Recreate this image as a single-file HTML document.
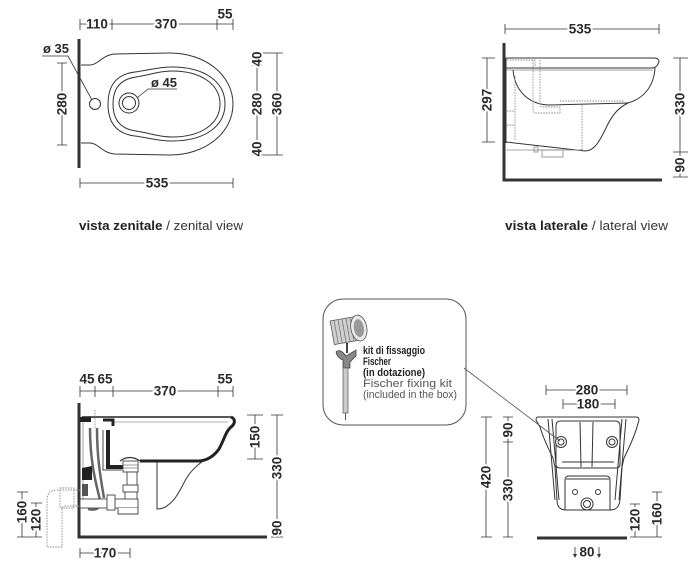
<!DOCTYPE html>
<html><head><meta charset="utf-8">
<style>
html,body{margin:0;padding:0;background:#fff;}
svg{display:block;}
.d{stroke:#333;stroke-width:0.8;fill:none}
.n{font-family:"Liberation Sans",sans-serif;font-weight:bold;font-size:13.5px;fill:#2a2a2a;stroke:#fff;stroke-width:4px;paint-order:stroke;stroke-linejoin:round;text-anchor:middle;dominant-baseline:central}
.m{font-family:"Liberation Sans",sans-serif;font-weight:bold;font-size:13.5px;fill:#2a2a2a;text-anchor:middle;dominant-baseline:central}
.o{stroke:#333;stroke-width:1;fill:none}
.g{stroke:#888;stroke-width:0.8;fill:none}
.dt{stroke:#888;stroke-width:0.9;fill:none;stroke-dasharray:1.5 1.2}
.w{stroke:#222;stroke-width:3;fill:none}
</style></head><body>
<svg width="698" height="562" viewBox="0 0 698 562" xmlns="http://www.w3.org/2000/svg">

<!-- ================= TOP-LEFT: zenital view ================= -->
<path class="d" d="M80,24H233 M80,19V30 M112,19V30 M217,19V30 M233,19V30"/>
<text class="n" x="97" y="24">110</text>
<text class="n" x="166" y="24">370</text>
<text class="m" x="225" y="14">55</text>

<path d="M79,39V168" stroke="#333" stroke-width="3"/>

<path class="o" d="M81,65 L90,65 C98,65 102,55 115,54 L170,53 C205,53 233,75 233,104 C233,133 205,155 170,155 L115,154 C102,153 98,143 90,143 L81,143"/>
<path class="o" d="M108,104 C108,84 118,74 135,72 C150,70 158,67 172,67 C205,67 225,82 225,104 C225,126 205,141 172,141 C158,141 150,138 135,136 C118,134 108,124 108,104 Z"/>
<path class="o" stroke-width="0.8" d="M113,104 C113,88 121,79 136,77 C150,75 158,71 172,71 C202,71 220,85 220,104 C220,123 202,137 172,137 C158,137 150,133 136,131 C121,129 113,120 113,104 Z"/>
<circle cx="129" cy="103" r="10" class="o"/>
<circle cx="129" cy="103" r="6.5" class="o"/>
<circle cx="95" cy="104" r="5.5" class="o"/>

<text x="43" y="53" font-family="Liberation Sans, sans-serif" font-weight="bold" font-size="13" fill="#2a2a2a">ø 35</text>
<path class="d" d="M42,56H68 L92,100"/>
<text x="151" y="87" font-family="Liberation Sans, sans-serif" font-weight="bold" font-size="13" fill="#2a2a2a">ø 45</text>
<path class="d" d="M177,89H148 L137,98"/>

<path class="d" d="M62,63V145 M57,63H67 M57,145H67"/>
<text class="n" transform="translate(62,104) rotate(-90)">280</text>

<path class="d" d="M257,53V155 M252,53H283 M252,65H262 M252,143H262 M252,155H283 M277,53V155"/>
<text class="n" transform="translate(257,59) rotate(-90)">40</text>
<text class="n" transform="translate(257,104) rotate(-90)">280</text>
<text class="n" transform="translate(257,149) rotate(-90)">40</text>
<text class="n" transform="translate(277,104) rotate(-90)">360</text>

<path class="d" d="M80,183H233 M80,178V188 M233,178V188"/>
<text class="n" x="157" y="183">535</text>

<text x="79" y="230" font-family="Liberation Sans, sans-serif" font-size="12.5" fill="#333" textLength="164" lengthAdjust="spacingAndGlyphs"><tspan font-weight="bold" fill="#222">vista zenitale</tspan> / zenital view</text>

<!-- ================= TOP-RIGHT: lateral view ================= -->
<path class="d" d="M505,29H659 M505,24V34 M659,24V34"/>
<text class="n" x="580" y="29">535</text>

<path d="M504,43V180H662" stroke="#333" stroke-width="3" fill="none"/>

<path class="d" d="M487,58V142 M482,58H495 M482,142H495"/>
<text class="n" transform="translate(487,100) rotate(-90)">297</text>
<path class="d" d="M680,58V177 M673,58H688 M673,152H688 M673,177H688"/>
<text class="n" transform="translate(680,104) rotate(-90)">330</text>
<text class="n" transform="translate(680,165) rotate(-90)">90</text>

<path class="o" d="M506,58H654 Q659,58 659,62 L658,64 Q656,68 652,68 H506"/>
<path class="g" d="M506,70H653"/>
<path class="o" d="M655,68 C654,85 645,98 628,103"/>
<path class="o" d="M513,70 C515,92 530,105 550,105 L628,103"/>
<path class="o" d="M506,58V143"/>
<path class="o" d="M506,142 L585,151 C595,151 600,140 606,128 C612,115 618,108 628,103"/>
<path class="g" d="M506,150H583"/>
<rect x="542" y="150" width="21" height="7" class="g"/>
<rect x="534" y="147" width="4" height="5" class="g"/>
<path class="dt" d="M582,105V150 M515,76V140 M507,60H535V66 M533,60V110 Q533,113 536,113 H560 M540,60V104 Q540,107 543,107 H560 V113 M560,101H625 M507,111H515 M507,125H515"/>

<text x="505" y="230" font-family="Liberation Sans, sans-serif" font-size="12.5" fill="#333" textLength="163" lengthAdjust="spacingAndGlyphs"><tspan font-weight="bold" fill="#222">vista laterale</tspan> / lateral view</text>

<!-- ================= BOTTOM-LEFT: section ================= -->
<path class="d" d="M80,391H233 M80,386V397 M95,386V397 M113,386V397 M218,386V397 M233,386V397"/>
<text class="m" x="87" y="379">45</text>
<text class="m" x="105" y="379">65</text>
<text class="n" x="165" y="391">370</text>
<text class="m" x="225" y="379">55</text>

<path d="M79,403V537H267" stroke="#333" stroke-width="3" fill="none"/>

<path class="d" d="M255,415V459 M247,415H263 M247,459H263 M277,415V537 M271,415H283 M271,522H283 M271,537H283"/>
<text class="n" transform="translate(255,437) rotate(-90)">150</text>
<text class="n" transform="translate(277,468) rotate(-90)">330</text>
<text class="n" transform="translate(277,528) rotate(-90)">90</text>

<path class="d" d="M22,492V537 M17,492H28 M36,503V537 M31,503H42 M17,537H42"/>
<text class="n" transform="translate(22,512) rotate(-90)">160</text>
<text class="n" transform="translate(36,520) rotate(-90)">120</text>

<path class="d" d="M80,553H130 M80,548V558 M130,548V558"/>
<text class="n" x="105" y="553">170</text>

<!-- body -->
<path d="M82,417H231" stroke="#222" stroke-width="1.5"/>
<path d="M113,422H228" stroke="#999" stroke-width="0.8"/>
<rect x="80" y="417" width="11" height="5" fill="#222"/>
<path d="M103,420H113V426" stroke="#222" stroke-width="3" fill="none"/>
<path d="M108,430V467H123" stroke="#222" stroke-width="4" fill="none"/>
<path d="M103,430V470H122" stroke="#444" stroke-width="1" fill="none"/>
<path class="w" d="M231,417 C236,419 235,424 231,427 C226,431 224,440 219,449 C214,456 208,460 200,461 L140,461"/>
<path class="o" stroke-width="1.5" d="M203,461 C196,466 190,472 186,479 C181,488 176,500 168,505 C165,508 162,509 157,509 V462"/>

<path class="g" d="M83,422V499"/>
<path class="dt" d="M95,410V428"/>
<path d="M90,428 C90,460 95,480 100,500 C102,508 96,511 88,509" stroke="#666" stroke-width="2.5" fill="none"/>
<path d="M97,428 C97,460 101,480 104,498" stroke="#666" stroke-width="2.5" fill="none"/>
<path d="M82,468 L92,466 L92,480 L82,480Z" fill="#222"/>
<rect x="82" y="484" width="6" height="12" fill="#555"/>

<path d="M120,461 Q130,454 140,461" fill="#fff" stroke="#333" stroke-width="1.2"/>
<rect x="123" y="461" width="15" height="11" fill="#fff" stroke="#444" stroke-width="0.9"/>
<path d="M123,465H138 M123,468H138" stroke="#777" stroke-width="0.7"/>
<rect x="127" y="472" width="10" height="13" fill="#fff" stroke="#444" stroke-width="0.9"/>
<rect x="123" y="485" width="15" height="7" fill="#fff" stroke="#444" stroke-width="0.9"/>
<rect x="125" y="492" width="12" height="8" fill="#fff" stroke="#444" stroke-width="0.9"/>
<rect x="80" y="499" width="58" height="9" fill="#fff" stroke="#444" stroke-width="0.9"/>
<rect x="107" y="495" width="8" height="15" fill="#fff" stroke="#444" stroke-width="0.9"/>
<path d="M118,508 V514 H138 V508" fill="#fff" stroke="#444" stroke-width="0.9"/>

<path class="dt" d="M80,490 H57 Q47,490 47,500 V547 H62 V509 Q62,506 66,506 H80"/>
<rect class="dt" x="60" y="488" width="14" height="20"/>

<!-- ================= CALLOUT ================= -->
<rect x="323" y="299" width="143" height="126" rx="20" fill="#fff" stroke="#555" stroke-width="1"/>
<g transform="rotate(-10 348 330)">
<rect x="332" y="318" width="26" height="24" fill="#cfcfcf" stroke="#555" stroke-width="0.8"/>
<path d="M336,318V342 M340,318V342 M344,318V342 M348,318V342 M352,318V342" stroke="#777" stroke-width="0.8"/>
<ellipse cx="359" cy="330" rx="8" ry="13" fill="#e8e8e8" stroke="#555" stroke-width="0.8"/>
<ellipse cx="359" cy="330" rx="5" ry="9" fill="#999"/>
</g>
<path d="M347,343 V353" stroke="#444" stroke-width="2"/>
<path d="M336,352 Q340,348 346,356 L356,350 L356,356 L350,362 L350,368 L343,368 L343,360 Q337,358 336,352Z" fill="#888" stroke="#333" stroke-width="0.7"/>
<rect x="343" y="368" width="5" height="45" fill="#ccc" stroke="#555" stroke-width="0.7"/>
<path d="M345.5,413 V420" stroke="#555"/>
<g font-family="Liberation Sans, sans-serif" font-size="11">
<text x="363" y="354" font-weight="bold" fill="#222" textLength="62" lengthAdjust="spacingAndGlyphs">kit di fissaggio</text>
<text x="363" y="365" font-weight="bold" fill="#222" textLength="28" lengthAdjust="spacingAndGlyphs">Fischer</text>
<text x="363" y="376" font-weight="bold" fill="#222" textLength="62" lengthAdjust="spacingAndGlyphs">(in dotazione)</text>
<text x="363" y="387" fill="#555" textLength="89" lengthAdjust="spacingAndGlyphs">Fischer fixing kit</text>
<text x="363" y="398" fill="#555" textLength="94" lengthAdjust="spacingAndGlyphs">(included in the box)</text>
</g>

<!-- ================= BOTTOM-RIGHT: front view ================= -->
<path class="d" d="M546,390H627 M546,385V395 M627,385V395"/>
<text class="n" x="587" y="390">280</text>
<path class="d" d="M563,404H615 M563,399V409 M615,399V409"/>
<text class="n" x="588" y="404">180</text>

<path class="d" d="M486,417V537 M481,417H492 M481,537H492 M508,417V537 M503,417H513 M503,442H513 M503,537H513"/>
<text class="n" transform="translate(486,477) rotate(-90)">420</text>
<text class="n" transform="translate(508,430) rotate(-90)">90</text>
<text class="n" transform="translate(508,490) rotate(-90)">330</text>

<path class="d" d="M635,504V537 M630,504H640 M657,492V537 M652,492H662 M630,537H662"/>
<text class="n" transform="translate(635,520) rotate(-90)">120</text>
<text class="n" transform="translate(657,514) rotate(-90)">160</text>

<path class="o" stroke-width="1.2" d="M538,417 H636 Q639,417 639,420 L637,427 C634,437 629,448 624,458 L622,467 L620,500 Q619,510 610,510 H566 Q557,510 557,500 L555,467 L553,458 C548,448 543,437 540,427 L536,420 Q536,417 538,417 Z"/>
<path class="o" stroke-width="0.8" d="M548,419 L555,500 M552,419 L559,500 M626,419 L619,500 M622,419 L615,500"/>
<path class="o" d="M560,421 H615 Q620,421 620,426 V464 Q620,468 616,468 H560 Q556,468 556,464 V426 Q556,421 560,421 Z"/>
<path class="o" stroke-width="0.8" d="M562,462H614 M580,422 L581,467 M593,422 L592,467"/>
<circle cx="561" cy="442" r="5.5" fill="#fff" stroke="#333"/>
<circle cx="561" cy="442" r="3" fill="none" stroke="#333"/>
<circle cx="612" cy="442" r="5.5" fill="#fff" stroke="#333"/>
<circle cx="612" cy="442" r="3" fill="none" stroke="#333"/>
<path class="o" d="M565,510 V480 Q565,476 569,476 H606 Q610,476 610,480 V510"/>
<path class="o" stroke-width="0.7" d="M566,479H609"/>
<circle cx="575" cy="492" r="2.5" class="o"/>
<circle cx="598" cy="492" r="2.5" class="o"/>
<circle cx="587" cy="504" r="6" fill="#fff" stroke="#333"/>
<circle cx="587" cy="504" r="3.5" class="o"/>

<path d="M537,538H627" stroke="#333" stroke-width="3"/>
<path class="d" d="M575,547V557 M599,547V557"/>
<path d="M573,554 L577,554 L575,558Z M597,554 L601,554 L599,558Z" fill="#333"/>
<text class="m" x="587" y="552">80</text>

<path d="M464,368 L560,441" stroke="#555" stroke-width="0.8" fill="none"/>

</svg>
</body></html>
